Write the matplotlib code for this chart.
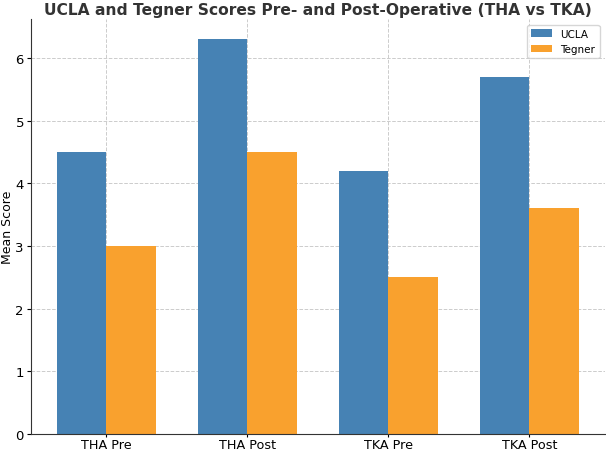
import numpy as np
import matplotlib
matplotlib.use("Agg")
import matplotlib.pyplot as plt

categories = ["THA Pre", "THA Post", "TKA Pre", "TKA Post"]
ucla = [4.5, 6.3, 4.2, 5.7]
tegner = [3.0, 4.5, 2.5, 3.6]

fig, ax = plt.subplots(figsize=(6.06, 4.52), dpi=100)
fig.subplots_adjust(left=0.051, right=0.998, bottom=0.038, top=0.955)

x = np.arange(len(categories))
width = 0.35
ax.bar(x - width / 2, ucla, width, label="UCLA", color="#4682b4")
ax.bar(x + width / 2, tegner, width, label="Tegner", color="#f9a12e")

ax.set_xticks(x)
ax.set_xticklabels(categories, fontsize=9.2)
ax.tick_params(axis="y", labelsize=9.5, length=3, pad=2)
ax.tick_params(axis="x", length=2, pad=1)
ax.set_ylabel("Mean Score", fontsize=9, labelpad=1)
ax.set_title("UCLA and Tegner Scores Pre- and Post-Operative (THA vs TKA)",
             fontsize=11.2, fontweight="bold", color="#333333", pad=4)
ax.grid(True, linestyle="--", color="#cccccc", linewidth=0.7)
ax.set_axisbelow(True)
ax.spines["top"].set_visible(False)
ax.spines["right"].set_visible(False)
ax.spines["left"].set_color("#333333")
ax.spines["bottom"].set_color("#333333")
ax.legend(fontsize=7.5)

fig.savefig("out.png")
